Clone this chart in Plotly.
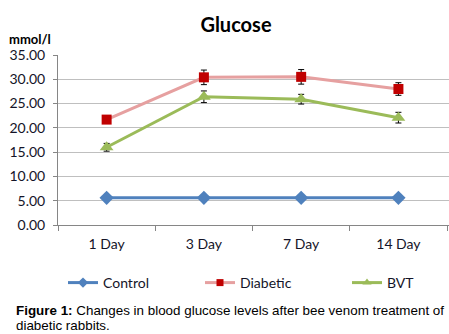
import plotly.graph_objects as go

days = ["1 Day", "3 Day", "7 Day", "14 Day"]
control = [5.6, 5.6, 5.6, 5.6]
control_err = [0.2, 0.2, 0.2, 0.2]
diabetic = [21.7, 30.4, 30.5, 28.0]
diabetic_err = [0.5, 1.5, 1.5, 1.3]
bvt = [16.0, 26.4, 25.9, 22.1]
bvt_err = [0.8, 1.2, 1.0, 1.1]

y_ticks = [0, 5, 10, 15, 20, 25, 30, 35]

FONT = "Lato"
TEXT = "#141428"

series = [
    ("Control", control, control_err, "#4F81BD", "#4F81BD", "diamond", 11, 8, "legend"),
    ("Diabetic", diabetic, diabetic_err, "#E6A0A0", "#C00000", "square", 10, 7, "legend2"),
    ("BVT", bvt, bvt_err, "#9BBB59", "#9BBB59", "triangle-up", 12, 8, "legend3"),
]

fig = go.Figure()

for name, vals, err, lc, mc, sym, msize, lsize, leg in series:
    fig.add_trace(go.Scatter(
        x=days, y=vals, name=name, mode="lines+markers",
        line=dict(color=lc, width=3),
        marker=dict(symbol=sym, size=msize, color=mc),
        error_y=dict(type="data", array=err, color="#000000",
                     thickness=1, width=3),
        showlegend=False,
    ))
    # legend key with the smaller marker used in the key
    fig.add_trace(go.Scatter(
        x=[None], y=[None], name=name, mode="lines+markers",
        line=dict(color=lc, width=3),
        marker=dict(symbol=sym, size=lsize, color=mc),
        legend=leg, showlegend=True,
    ))

legend_common = dict(
    orientation="h", xref="paper", yref="container", xanchor="left",
    yanchor="middle", y=1 - 283 / 334, bgcolor="rgba(0,0,0,0)",
    font=dict(family=FONT, size=14, color=TEXT), itemsizing="trace",
)

fig.update_layout(
    width=449, height=334,
    margin=dict(l=58, r=0, t=55, b=109),
    paper_bgcolor="white", plot_bgcolor="white",
    title=dict(text="<b>Glucose</b>", x=236 / 449, xanchor="center",
               y=1 - 25 / 334, yanchor="middle",
               font=dict(family=FONT, size=20, color="#000000")),
    xaxis=dict(
        type="category", range=[-0.5, 3.52], tickson="boundaries",
        ticks="outside", ticklen=5, tickcolor="#868686",
        showline=True, linecolor="#868686", linewidth=1,
        showgrid=False, ticklabelstandoff=6,
        tickfont=dict(family=FONT, size=14, color=TEXT),
    ),
    yaxis=dict(
        range=[0, 35], tickvals=y_ticks, tickformat=".2f",
        ticks="outside", ticklen=4, tickcolor="#868686",
        showline=True, linecolor="#868686", linewidth=1,
        showgrid=True, gridcolor="#BFBFBF", gridwidth=1, zeroline=False,
        ticklabelstandoff=5,
        tickfont=dict(family=FONT, size=14, color=TEXT),
    ),
    legend=dict(x=(63 - 58) / 391, **legend_common),
    legend2=dict(x=(200 - 58) / 391, **legend_common),
    legend3=dict(x=(347 - 58) / 391, **legend_common),
    showlegend=True,
)

fig.add_annotation(
    text="<b>mmol/l</b>", xref="paper", yref="paper",
    x=-58 / 391 + 7 / 391, xanchor="left", y=1 + 16 / 170, yanchor="middle",
    showarrow=False, font=dict(family=FONT, size=13, color="#000000"),
)

caption_lines = [
    "<b>Figure 1:</b> Changes in blood glucose levels after bee venom treatment of",
    "diabetic rabbits.",
]
for i, line in enumerate(caption_lines):
    fig.add_annotation(
        text=line, xref="paper", yref="paper", x=-44 / 391, xanchor="left",
        y=-(310 + 15 * i - 225) / 170, yanchor="middle", align="left",
        showarrow=False,
        font=dict(family="Liberation Sans", size=13.4, color="#000000"),
    )

fig.write_html("out.html")
